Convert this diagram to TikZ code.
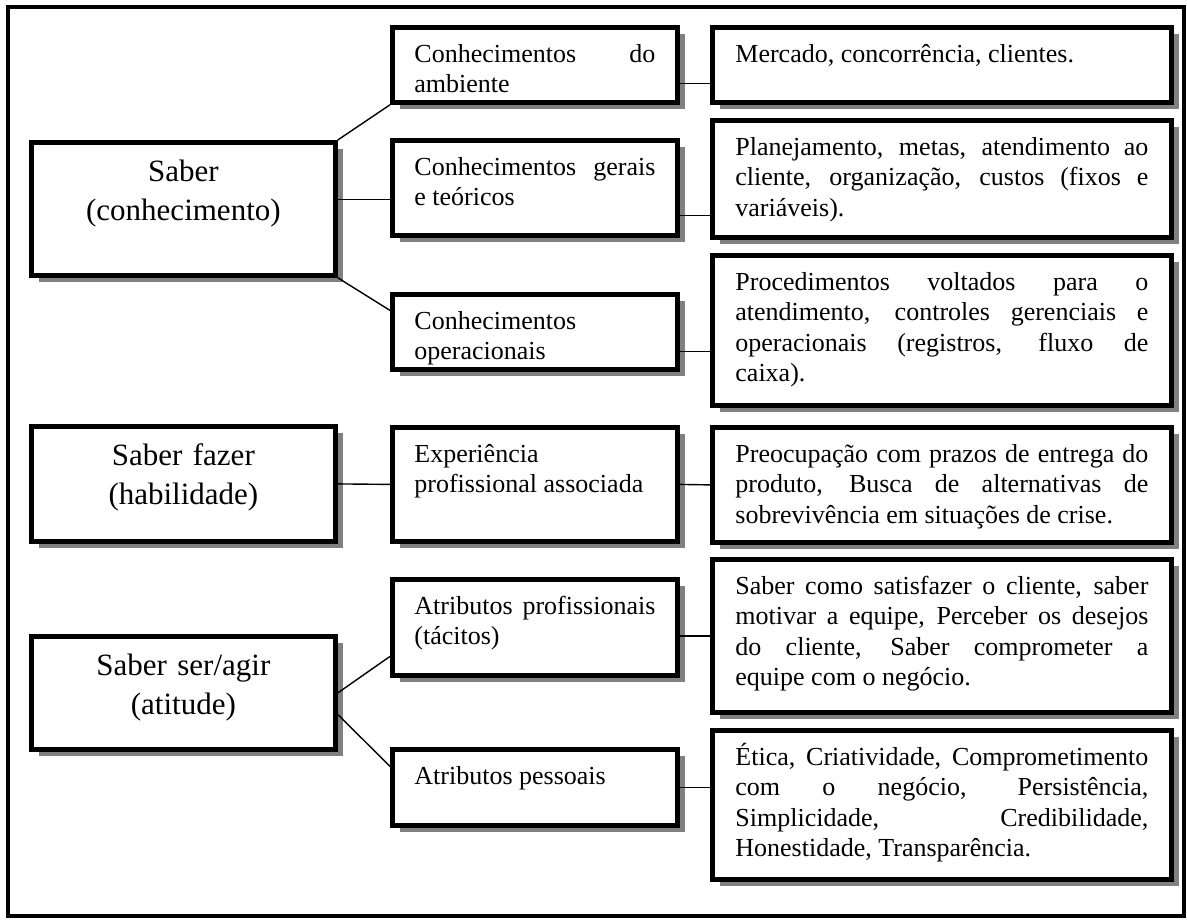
\documentclass[tikz,border=0pt]{standalone}
\usepackage{fontspec}
\setmainfont{Liberation Serif}
\usetikzlibrary{shadows}
\newcommand\lboxfont{\fontsize{15.5pt}{19.5pt}\selectfont}
\newcommand\tboxfont{\fontsize{13pt}{15.25pt}\selectfont}
\hyphenpenalty=10000
\exhyphenpenalty=10000
\tolerance=10000
\tikzset{
  box/.style={draw, line width=2.4pt, fill=white, anchor=north west, inner ysep=4pt,
    drop shadow={shadow xshift=4pt, shadow yshift=-3.5pt, fill=black!50, opacity=1}},
  lbox/.style={box, text width=140pt, inner xsep=6pt, align=center, font=\lboxfont,
    text height=15.5pt, text depth=#1},
  mbox/.style={box, text width=120.5pt, inner xsep=11pt, align=justify, font=\tboxfont,
    text height=13.5pt, text depth=#1},
  rbox/.style={box, text width=206.5pt, inner xsep=11.5pt, align=justify, font=\tboxfont,
    text height=13.5pt, text depth=#1},
  link/.style={line width=0.7pt}
}
\begin{document}
\begin{tikzpicture}[x=0.5pt, y=-0.5pt]
    \useasboundingbox (0,0) rectangle (1187,920);
    \draw[line width=1.6pt] (8,7) rectangle (1184,916);

    % left column
    \node[lbox=43pt] (saber) at (29,140) {Saber\\(conhecimento)};
    \node[lbox=34pt] (fazer) at (29,424) {Saber fazer\\(habilidade)};
    \node[lbox=33pt] (agir) at (29,634) {Saber ser/agir\\(atitude)};

    % middle column
    \node[mbox=16pt] (ambiente) at (390,25) {Conhecimentos do\linebreak ambiente};
    \node[mbox=26pt] (gerais) at (390,138) {Conhecimentos gerais\linebreak e teóricos};
    \node[mbox=16pt] (operac) at (390,292) {Conhecimentos\\operacionais};
    \node[mbox=35.5pt] (experiencia) at (390,425) {Experiência\\profissional associada};
    \node[mbox=26.5pt] (tacitos) at (390,577) {Atributos profissionais\linebreak (tácitos)};
    \node[mbox=16.5pt] (pessoais) at (390,747) {Atributos pessoais};

    % right column
    \node[rbox=16pt] (mercado) at (710,25) {Mercado, concorrência, clientes.};
    \node[rbox=37pt] (planej) at (710,118) {Planejamento, metas, atendimento ao\linebreak
        cliente, organização, custos (fixos e\linebreak variáveis).};
    \node[rbox=53.5pt] (proced) at (710,253) {Procedimentos voltados para o\linebreak
        atendimento, controles gerenciais e\linebreak operacionais (registros, fluxo de\linebreak caixa).};
    \node[rbox=36pt] (preocup) at (710,425) {Preocupação com prazos de entrega do\linebreak
        produto, Busca de alternativas de\linebreak sobrevivência em situações de crise.};
    \node[rbox=55pt] (satisf) at (710,557) {Saber como satisfazer o cliente, saber\linebreak
        motivar a equipe, Perceber os desejos\linebreak do cliente, Saber comprometer a\linebreak
        equipe com o negócio.};
    \node[rbox=53pt] (etica) at (710,728) {Ética, Criatividade, Comprometimento\linebreak
        com o negócio, Persistência,\linebreak Simplicidade, Credibilidade,\linebreak
        Honestidade, Transparência.};

    % links
    \draw[link] (saber.north east) -- (ambiente.south west);
    \draw[link] ([yshift=4.75pt]saber.east) -- ([yshift=-5.75pt]gerais.west);
    \draw[link] (saber.south east) -- ([yshift=10.75pt]operac.west);
    \draw[link] (fazer.east) -- (experiencia.west);
    \draw[link] (agir.east) -- ([yshift=-14.5pt]tacitos.west);
    \draw[link] ([yshift=-10.75pt]agir.east) -- ([yshift=10.5pt]pessoais.west);

    \draw[link] ([yshift=-9.25pt]ambiente.east) -- ([yshift=-9.25pt]mercado.west);
    \draw[link] ([yshift=-13.75pt]gerais.east) -- ([yshift=-18.25pt]planej.west);
    \draw[link] ([yshift=-9.75pt]operac.east) -- ([yshift=-10.5pt]proced.west);
    \draw[link] (experiencia.east) -- (preocup.west);
    \draw[link] ([yshift=-4.25pt]tacitos.east) -- (satisf.west);
    \draw[link] (pessoais.east) -- ([yshift=8.75pt]etica.west);
\end{tikzpicture}
\end{document}
